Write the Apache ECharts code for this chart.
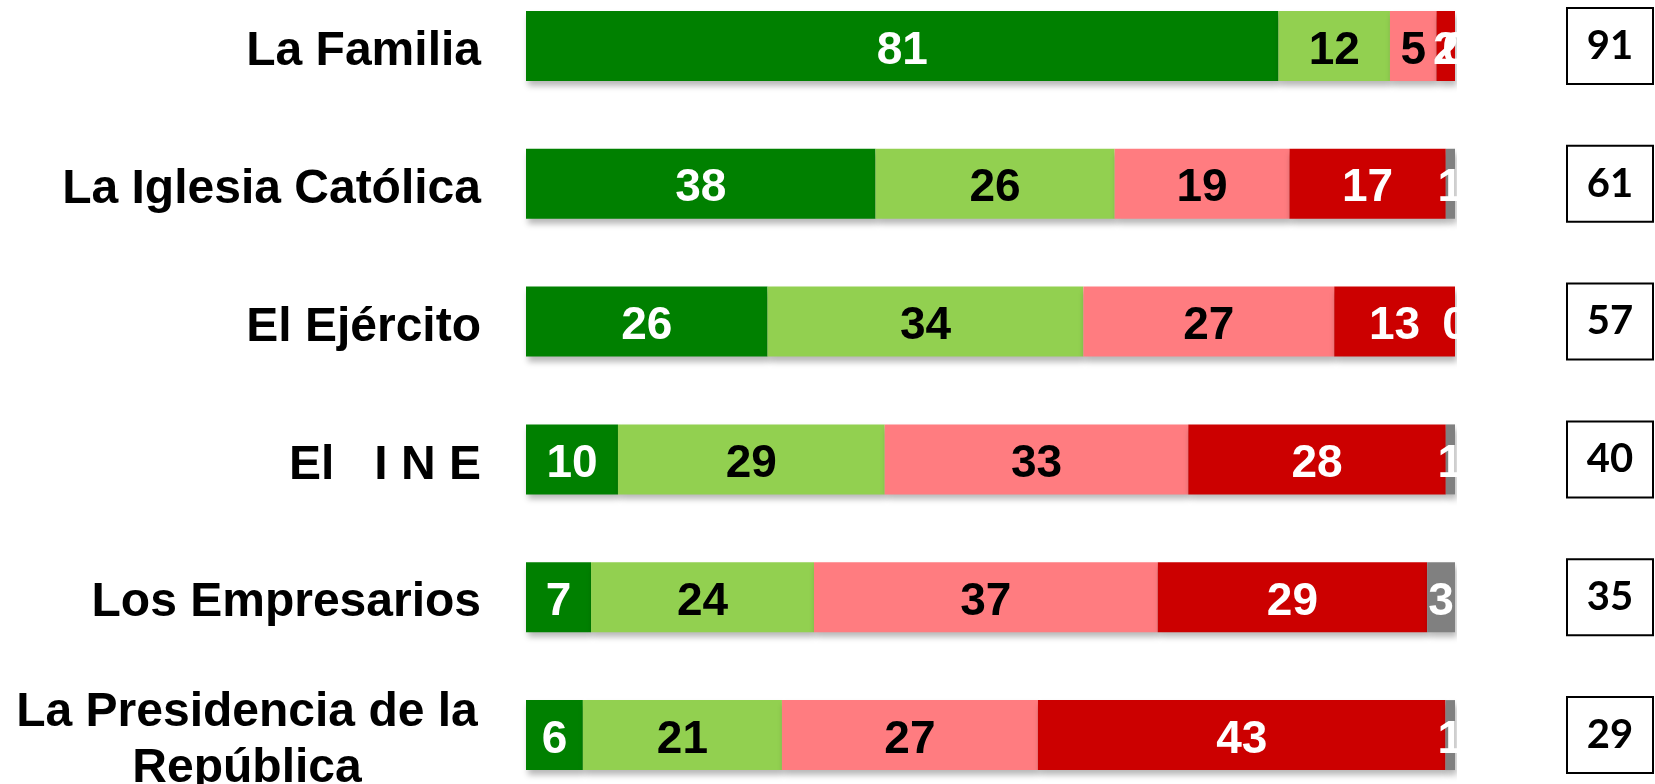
<!DOCTYPE html>
<html>
<head>
    <meta charset="utf-8">
    <script src="https://cdnjs.cloudflare.com/ajax/libs/echarts/6.0.0/echarts.min.js"></script>
</head>
<body>
    <div id="main"></div>
    <style>
html,body { margin: 0; padding: 0; background: #fff; }
#main { width: 1655px; height: 784px; }
    </style>
    <script type="text/javascript">
var categories = ['La Familia', 'La Iglesia Católica', 'El Ejército', 'El   I N E', 'Los Empresarios', 'La Presidencia de la\nRepública'];
var mucha = [81, 38, 26, 10, 7, 6];
var algo = [12, 26, 34, 29, 24, 21];
var poca = [5, 19, 27, 33, 37, 27];
var nada = [2, 17, 13, 28, 29, 43];
var nsnc = [0, 1, 0, 1, 3, 1];
var netos = ['91', '61', '57', '40', '35', '29'];

var raw = [mucha, algo, poca, nada, nsnc];
var names = ['Mucha', 'Algo', 'Poca', 'Nada', 'NS/NC'];
var colors = ['#008000', '#92D050', '#FF7C80', '#CC0000', '#808080'];
var labelColors = ['#fff', '#000', '#000', '#fff', '#fff'];

// each row is drawn as share of its own total so bars fill the full width
var totals = categories.map(function (c, i) {
    return raw.reduce(function (s, arr) { return s + arr[i]; }, 0);
});

var series = raw.map(function (arr, k) {
    return {
        name: names[k],
        type: 'bar',
        stack: 'total',
        barWidth: 70,
        data: arr.map(function (v, i) { return v / totals[i] * 100; }),
        itemStyle: {
            color: colors[k],
            shadowColor: 'rgba(0,0,0,0.28)',
            shadowBlur: 6,
            shadowOffsetY: 5,
            shadowOffsetX: 2
        },
        label: {
            show: true,
            position: 'inside',
            offset: [0, 5],
            color: labelColors[k],
            fontFamily: 'Liberation Sans, Arial, sans-serif',
            fontWeight: 'bold',
            fontSize: 46,
            formatter: function (p) { return raw[p.seriesIndex][p.dataIndex]; }
        }
    };
});

var option = {
    animation: false,
    grid: { left: 526, width: 929, top: -23, height: 827, outerBoundsMode: 'none', containLabel: false },
    xAxis: { type: 'value', min: 0, max: 100, show: false },
    yAxis: [{
        type: 'category',
        inverse: true,
        data: categories,
        axisLine: { show: false },
        axisTick: { show: false },
        axisLabel: {
            margin: 45,
            padding: [12, 0, 0, 0],
            color: '#000',
            fontFamily: 'Liberation Sans, Arial, sans-serif',
            fontWeight: 'bold',
            fontSize: 48,
            formatter: function (v) {
                if (v.indexOf('\n') < 0) return v;
                return v.split('\n').map(function (s) { return '{c|' + s + '}'; }).join('\n');
            },
            rich: {
                c: {
                    width: 468,
                    align: 'center',
                    lineHeight: 56,
                    color: '#000',
                    fontFamily: 'Liberation Sans, Arial, sans-serif',
                    fontWeight: 'bold',
                    fontSize: 48
                }
            }
        }
    }, {
        type: 'category',
        inverse: true,
        position: 'right',
        data: netos,
        axisLine: { show: false },
        axisTick: { show: false },
        axisLabel: {
            margin: 155,
            align: 'center',
            color: '#000',
            fontFamily: 'Lato, sans-serif',
            fontWeight: 'bold',
            fontSize: 40,
            width: 84,
            height: 66,
            lineHeight: 66,
            padding: [8, 0, 0, 0],
            backgroundColor: '#fff',
            borderColor: '#000',
            borderWidth: 2
        }
    }],
    graphic: [{
        type: 'rect',
        z: 100,
        shape: { x: 1457, y: 0, width: 30, height: 784 },
        style: { fill: '#fff' }
    }],
    series: series
};

var chart = echarts.init(document.getElementById('main'));
chart.setOption(option);
    </script>
</body>
</html>
